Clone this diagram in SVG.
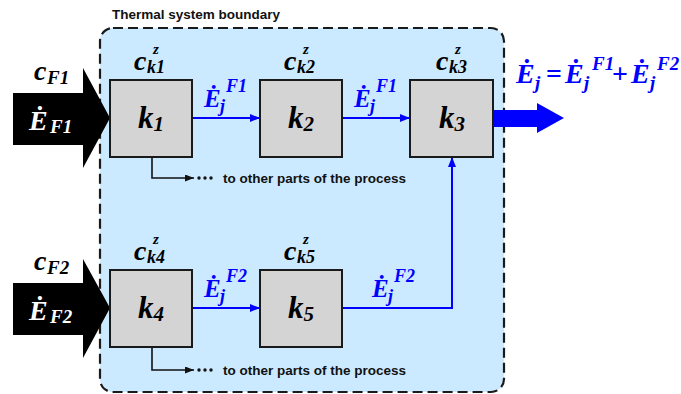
<svg xmlns="http://www.w3.org/2000/svg" width="681" height="394" viewBox="0 0 681 394">
<style>
.m{font-family:"Liberation Serif","Times New Roman",serif;font-weight:bold;font-style:italic}
.s{font-family:"Liberation Sans",Arial,sans-serif;font-weight:bold;font-size:13.5px;fill:#111}
.box{fill:#d4d4d4;stroke:#1a1a1a;stroke-width:2}
.bl{fill:#0000ff}
.bline{fill:none;stroke:#0000ff;stroke-width:2}
.kline{fill:none;stroke:#111;stroke-width:1.6}
</style>
<defs>
<marker id="ab" markerWidth="10" markerHeight="8" refX="10" refY="4" orient="auto" markerUnits="userSpaceOnUse">
<path d="M0,0 L10,4 L0,8 Z" fill="#0000ff"/>
</marker>
<marker id="ak" markerWidth="9" markerHeight="7" refX="9" refY="3.5" orient="auto" markerUnits="userSpaceOnUse">
<path d="M0,0 L9,3.5 L0,7 Z" fill="#111"/>
</marker>
</defs>
<rect width="681" height="394" fill="#fff"/>
<g id="boundary">
<rect x="100" y="28" width="404" height="364" rx="13" ry="13" fill="#cceaff" stroke="#1a1a1a" stroke-width="2.2" stroke-dasharray="10,5"/>
<text class="s" x="112" y="19">Thermal system boundary</text>
</g>
<g id="input1">
<polygon points="13,93 83,93 83,68 110,118 83,168 83,145 13,145" fill="#000"/>
<text class="m" font-size="28" fill="#000"><tspan x="34" y="80">c</tspan><tspan x="47" y="84" font-size="19">F1</tspan></text>
<text class="m" font-size="28" fill="#fff"><tspan x="29" y="130">Ė</tspan><tspan x="50" y="133" font-size="19">F1</tspan></text>
</g>
<g id="input2">
<polygon points="13,283 83,283 83,259 110,308 83,358 83,335 13,335" fill="#000"/>
<text class="m" font-size="28" fill="#000"><tspan x="34" y="270">c</tspan><tspan x="47" y="274" font-size="19">F2</tspan></text>
<text class="m" font-size="28" fill="#fff"><tspan x="29" y="320">Ė</tspan><tspan x="50" y="323" font-size="19">F2</tspan></text>
</g>
<g id="connectors">
<line class="bline" x1="193" y1="118" x2="260" y2="118" marker-end="url(#ab)"/>
<line class="bline" x1="343" y1="118" x2="410" y2="118" marker-end="url(#ab)"/>
<line class="bline" x1="193" y1="308" x2="260" y2="308" marker-end="url(#ab)"/>
<path class="bline" d="M343,308 H452 V157" marker-end="url(#ab)"/>
<path class="kline" d="M152,158 V178 H194" marker-end="url(#ak)"/>
<path class="kline" d="M152,348 V370 H194" marker-end="url(#ak)"/>
<polygon class="bl" points="494,110 537,110 537,103 564,118 537,133 537,127 494,127"/>
</g>
<g id="labels">
<text class="m bl" font-size="25"><tspan x="204" y="107">Ė</tspan><tspan x="220" y="112" font-size="18">j</tspan><tspan x="226" y="92" font-size="18">F1</tspan></text>
<text class="m bl" font-size="25"><tspan x="354" y="107">Ė</tspan><tspan x="370" y="112" font-size="18">j</tspan><tspan x="376" y="92" font-size="18">F1</tspan></text>
<text class="m bl" font-size="25"><tspan x="204" y="297">Ė</tspan><tspan x="220" y="302" font-size="18">j</tspan><tspan x="226" y="282" font-size="18">F2</tspan></text>
<text class="m bl" font-size="25"><tspan x="372" y="297">Ė</tspan><tspan x="388" y="302" font-size="18">j</tspan><tspan x="394" y="282" font-size="18">F2</tspan></text>
<text class="m bl" font-size="28"><tspan x="516" y="83">Ė</tspan><tspan x="535" y="89" font-size="19">j</tspan><tspan x="546" y="83" font-style="normal">=</tspan><tspan x="565" y="83">Ė</tspan><tspan x="584" y="89" font-size="19">j</tspan><tspan x="592" y="70" font-size="19">F1</tspan><tspan x="612" y="83" font-style="normal">+</tspan><tspan x="631" y="83">Ė</tspan><tspan x="650" y="89" font-size="19">j</tspan><tspan x="657" y="70" font-size="19">F2</tspan></text>
</g>
<g id="other1">
<circle cx="199" cy="178" r="1.7" fill="#111"/><circle cx="205" cy="178" r="1.7" fill="#111"/><circle cx="211" cy="178" r="1.7" fill="#111"/>
<text class="s" x="223" y="183">to other parts of the process</text>
</g>
<g id="other2">
<circle cx="199" cy="370" r="1.7" fill="#111"/><circle cx="205" cy="370" r="1.7" fill="#111"/><circle cx="211" cy="370" r="1.7" fill="#111"/>
<text class="s" x="223" y="375">to other parts of the process</text>
</g>
<g id="k1">
<rect class="box" x="110" y="80" width="82" height="77"/>
<text class="m" font-size="28"><tspan x="134" y="70">c</tspan><tspan x="147" y="73" font-size="18">k1</tspan><tspan x="153" y="54" font-size="15">z</tspan></text>
<text class="m" font-size="31" x="138" y="128">k<tspan font-size="21" dy="3">1</tspan></text>
</g>
<g id="k2">
<rect class="box" x="260" y="80" width="82" height="77"/>
<text class="m" font-size="28"><tspan x="284" y="70">c</tspan><tspan x="297" y="73" font-size="18">k2</tspan><tspan x="303" y="54" font-size="15">z</tspan></text>
<text class="m" font-size="31" x="288" y="128">k<tspan font-size="21" dy="3">2</tspan></text>
</g>
<g id="k3">
<rect class="box" x="410" y="80" width="83" height="77"/>
<text class="m" font-size="28"><tspan x="436" y="70">c</tspan><tspan x="449" y="73" font-size="18">k3</tspan><tspan x="455" y="54" font-size="15">z</tspan></text>
<text class="m" font-size="31" x="439" y="128">k<tspan font-size="21" dy="3">3</tspan></text>
</g>
<g id="k4">
<rect class="box" x="110" y="270" width="82" height="77"/>
<text class="m" font-size="28"><tspan x="134" y="260">c</tspan><tspan x="147" y="263" font-size="18">k4</tspan><tspan x="153" y="244" font-size="15">z</tspan></text>
<text class="m" font-size="31" x="138" y="318">k<tspan font-size="21" dy="3">4</tspan></text>
</g>
<g id="k5">
<rect class="box" x="260" y="270" width="82" height="77"/>
<text class="m" font-size="28"><tspan x="284" y="260">c</tspan><tspan x="297" y="263" font-size="18">k5</tspan><tspan x="303" y="244" font-size="15">z</tspan></text>
<text class="m" font-size="31" x="288" y="318">k<tspan font-size="21" dy="3">5</tspan></text>
</g>
</svg>
